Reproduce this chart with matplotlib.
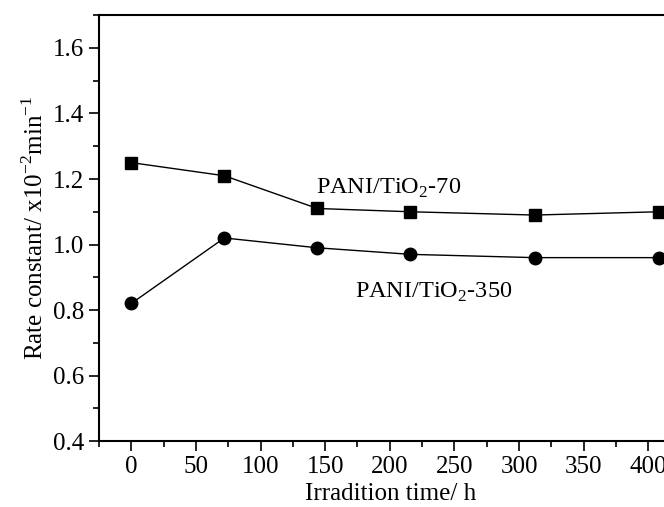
import numpy as np
import matplotlib.pyplot as plt
from matplotlib.ticker import MultipleLocator

plt.rcParams['font.family'] = ['Liberation Serif', 'DejaVu Serif']
plt.rcParams['mathtext.fontset'] = 'custom'
plt.rcParams['mathtext.rm'] = 'Liberation Serif'

# irradiation time (h)
time_h = [0, 72, 144, 216, 312, 408]
# rate constants (x10^-2 min^-1)
k_70 = [1.25, 1.21, 1.11, 1.10, 1.09, 1.10]
k_350 = [0.82, 1.02, 0.99, 0.97, 0.96, 0.96]

fig = plt.figure(figsize=(6.64, 5.07), dpi=100)
# axes run past the right edge, as in the cropped original
ax = fig.add_axes([0.149, 0.130, 0.88, 0.840])

ax.plot(time_h, k_70, '-s', color='black', lw=1.0, ms=8)
ax.plot(time_h, k_350, '-o', color='black', lw=1.0, ms=9)

ax.set_xlim(-25, 427)
ax.set_ylim(0.4, 1.7)
ax.xaxis.set_major_locator(MultipleLocator(50))
ax.xaxis.set_minor_locator(MultipleLocator(25))
ax.yaxis.set_minor_locator(MultipleLocator(0.1))
ax.set_yticks([0.4, 0.6, 0.8, 1.0, 1.2, 1.4, 1.6])
ax.set_yticklabels(['0.4', '0.6', '0.8', '1.0', '1.2', '1.4', '1.6'])
ax.tick_params(which='major', direction='out', length=7, width=1.2, labelsize=18)
ax.tick_params(which='minor', direction='out', length=4, width=1.2)
for s in ax.spines.values():
    s.set_linewidth(1.5)

ax.set_xlabel('Irradition time/ h', fontsize=18, labelpad=4)
ax.set_ylabel('Rate constant/ x10$^{\\mathrm{-2}}$min$^{\\mathrm{-1}}$', fontsize=18, labelpad=4)

ax.text(143, 1.17, 'PANI/TiO$_{\\mathrm{2}}$-70', fontsize=17.5, va='center')
ax.text(173, 0.855, 'PANI/TiO$_{\\mathrm{2}}$-350', fontsize=17.5, va='center')

fig.savefig('out.png', dpi=100)
